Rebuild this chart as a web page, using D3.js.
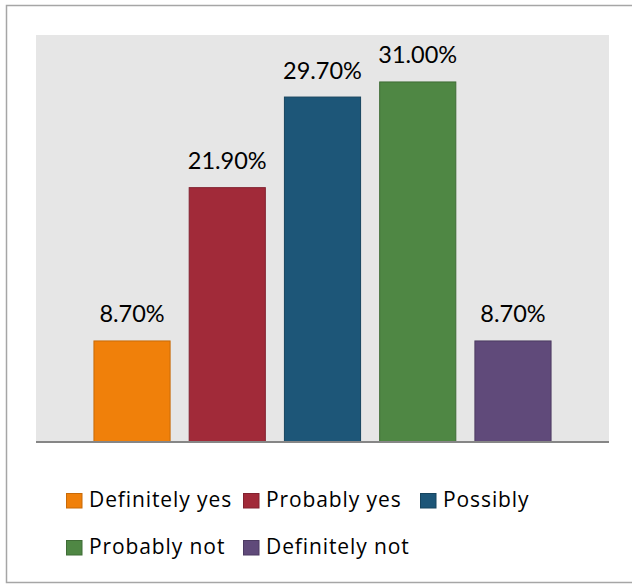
<!DOCTYPE html>
<html><head><meta charset="utf-8">
<script src="https://cdn.jsdelivr.net/npm/d3@7"></script>
<style>body{margin:0;background:#fff}svg{display:block}</style>
</head><body><svg id="c" width="632" height="584"></svg>
<script>
const categories = ["Definitely yes","Probably yes","Possibly","Probably not","Definitely not"];
const values = [8.7, 21.9, 29.7, 31.0, 8.7];
const labels = ["8.70%","21.90%","29.70%","31.00%","8.70%"];
const colors = ["#F0800A","#A12A39","#1D5678","#4F8744","#604A7A"];
const strokes = ["#C86A08","#822230","#17455F","#3F6C36","#4C3B62"];

const svg = d3.select("#c");
const font = "Lato, 'Open Sans', sans-serif";
const legFont = "'Open Sans', sans-serif";
svg.append("rect").attr("x",6.5).attr("y",5.5).attr("width",640).attr("height",577)
  .attr("fill","#fff").attr("stroke","#a6a6a6").attr("stroke-width",1.5);

const plot = {left:36, right:609, top:35, bottom:441.5};
svg.append("rect").attr("x",plot.left).attr("y",plot.top)
  .attr("width",plot.right-plot.left).attr("height",plot.bottom-plot.top).attr("fill","#E6E6E6");

const x = d3.scaleBand().domain(categories).range([84.4,560.6]).paddingInner(0.19).paddingOuter(0.095);
const y = d3.scaleLinear().domain([0,35]).range([plot.bottom, plot.top]);

svg.selectAll("rect.bar").data(values).join("rect").attr("class","bar")
  .attr("x",(d,i)=>x(categories[i])+0.5).attr("y",d=>y(d)+0.5)
  .attr("width",x.bandwidth()-1).attr("height",d=>plot.bottom-y(d))
  .attr("fill",(d,i)=>colors[i]).attr("stroke",(d,i)=>strokes[i]).attr("stroke-width",1);

svg.selectAll("text.lbl").data(values).join("text").attr("class","lbl")
  .attr("x",(d,i)=>x(categories[i])+x.bandwidth()/2).attr("y",d=>y(d)-18)
  .attr("text-anchor","middle").attr("font-family",font).attr("font-size",23.5)
  .attr("fill","#000").text((d,i)=>labels[i]);

svg.append("line").attr("x1",plot.left).attr("x2",plot.right).attr("y1",442).attr("y2",442)
  .attr("stroke","#868686").attr("stroke-width",2);

const legPos = [[66,493],[243,493],[420,493],[66,540],[243,540]];
const lg = svg.selectAll("g.leg").data(categories).join("g").attr("class","leg")
  .attr("transform",(d,i)=>`translate(${legPos[i][0]},${legPos[i][1]})`);
lg.append("rect").attr("x",0.5).attr("y",0.5).attr("width",15.5).attr("height",14.5)
  .attr("fill",(d,i)=>colors[i]).attr("stroke",(d,i)=>strokes[i]);
lg.append("text").attr("x",23).attr("y",14).attr("font-family",legFont).attr("font-size",21)
  .attr("letter-spacing",0.9).attr("fill","#000").text(d=>d);
</script></body></html>
